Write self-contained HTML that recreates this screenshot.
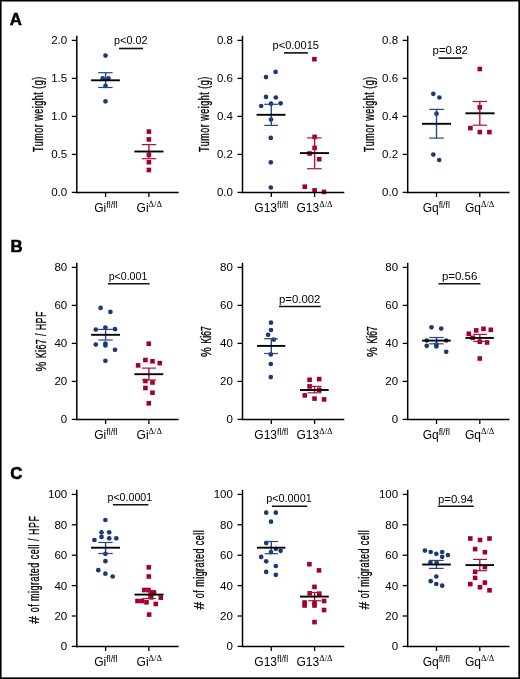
<!DOCTYPE html>
<html><head><meta charset="utf-8"><style>
html,body{margin:0;padding:0;background:#fff;}
body{width:520px;height:679px;overflow:hidden;}
svg{display:block;will-change:transform;}
</style></head><body>
<svg width="520" height="679" viewBox="0 0 520 679">
<rect x="0" y="0" width="520" height="679" fill="#fff"/>
<circle cx="105.50" cy="55.60" r="2.35" fill="#1b3877"/>
<circle cx="102.70" cy="78.40" r="2.35" fill="#1b3877"/>
<circle cx="108.40" cy="78.40" r="2.35" fill="#1b3877"/>
<circle cx="105.50" cy="85.90" r="2.35" fill="#1b3877"/>
<circle cx="105.50" cy="101.30" r="2.35" fill="#1b3877"/>
<rect x="146.60" y="129.30" width="4.6" height="4.6" fill="#a40026"/>
<rect x="146.60" y="137.10" width="4.6" height="4.6" fill="#a40026"/>
<rect x="146.60" y="152.50" width="4.6" height="4.6" fill="#a40026"/>
<rect x="146.60" y="159.90" width="4.6" height="4.6" fill="#a40026"/>
<rect x="146.60" y="167.70" width="4.6" height="4.6" fill="#a40026"/>
<line x1="105.60" y1="72.70" x2="105.60" y2="87.50" stroke="#24468a" stroke-width="1.4"/>
<line x1="98.20" y1="72.70" x2="112.60" y2="72.70" stroke="#24468a" stroke-width="1.2"/>
<line x1="98.20" y1="87.50" x2="112.60" y2="87.50" stroke="#24468a" stroke-width="1.2"/>
<line x1="91.10" y1="80.30" x2="119.90" y2="80.30" stroke="#000" stroke-width="1.9"/>
<line x1="148.90" y1="144.60" x2="148.90" y2="158.70" stroke="#b01040" stroke-width="1.4"/>
<line x1="141.80" y1="144.60" x2="156.20" y2="144.60" stroke="#b01040" stroke-width="1.2"/>
<line x1="141.80" y1="158.70" x2="156.20" y2="158.70" stroke="#b01040" stroke-width="1.2"/>
<line x1="134.40" y1="151.50" x2="163.50" y2="151.50" stroke="#000" stroke-width="1.9"/>
<line x1="76.80" y1="35.80" x2="76.80" y2="193.15" stroke="#000" stroke-width="1.5"/>
<line x1="76.05" y1="192.40" x2="178.60" y2="192.40" stroke="#000" stroke-width="1.5"/>
<line x1="71.80" y1="192.40" x2="76.80" y2="192.40" stroke="#000" stroke-width="1.3"/>
<text x="67.20" y="196.35" font-size="11.5" text-anchor="end" font-family='"Liberation Sans", sans-serif'>0.0</text>
<line x1="71.80" y1="154.40" x2="76.80" y2="154.40" stroke="#000" stroke-width="1.3"/>
<text x="67.20" y="158.35" font-size="11.5" text-anchor="end" font-family='"Liberation Sans", sans-serif'>0.5</text>
<line x1="71.80" y1="116.40" x2="76.80" y2="116.40" stroke="#000" stroke-width="1.3"/>
<text x="67.20" y="120.35" font-size="11.5" text-anchor="end" font-family='"Liberation Sans", sans-serif'>1.0</text>
<line x1="71.80" y1="78.40" x2="76.80" y2="78.40" stroke="#000" stroke-width="1.3"/>
<text x="67.20" y="82.35" font-size="11.5" text-anchor="end" font-family='"Liberation Sans", sans-serif'>1.5</text>
<line x1="71.80" y1="40.40" x2="76.80" y2="40.40" stroke="#000" stroke-width="1.3"/>
<text x="67.20" y="44.35" font-size="11.5" text-anchor="end" font-family='"Liberation Sans", sans-serif'>2.0</text>
<line x1="105.60" y1="192.40" x2="105.60" y2="197.00" stroke="#000" stroke-width="1.3"/>
<line x1="148.90" y1="192.40" x2="148.90" y2="197.00" stroke="#000" stroke-width="1.3"/>
<text x="94.25" y="211.80" font-size="12" font-family='"Liberation Sans", sans-serif'>Gi<tspan dy="-4.1" font-size="9" textLength="11.2" lengthAdjust="spacingAndGlyphs" style="font-variant-ligatures:none">fl/fl</tspan></text>
<text x="136.55" y="211.80" font-size="12" font-family='"Liberation Sans", sans-serif'>Gi<tspan dy="-5.2" font-size="8.6" font-family='"Liberation Serif", serif'>&#916;/&#916;</tspan></text>
<text transform="translate(43.30,114.40) rotate(-90) scale(0.65,1)" x="0" y="0" font-size="13.8" text-anchor="middle" textLength="115.54" lengthAdjust="spacing" stroke="#000" stroke-width="0.3" font-family='"Liberation Sans", sans-serif'>Tumor weight (g)</text>
<text x="114.10" y="44.40" font-size="11" textLength="33.4" lengthAdjust="spacingAndGlyphs" font-family='"Liberation Sans", sans-serif'>p&lt;0.02</text>
<line x1="119.00" y1="48.50" x2="143.00" y2="48.50" stroke="#111" stroke-width="1.6"/>
<circle cx="275.60" cy="71.90" r="2.35" fill="#1b3877"/>
<circle cx="266.00" cy="77.10" r="2.35" fill="#1b3877"/>
<circle cx="266.00" cy="96.90" r="2.35" fill="#1b3877"/>
<circle cx="275.80" cy="97.50" r="2.35" fill="#1b3877"/>
<circle cx="261.20" cy="106.00" r="2.35" fill="#1b3877"/>
<circle cx="271.00" cy="103.70" r="2.35" fill="#1b3877"/>
<circle cx="280.60" cy="103.30" r="2.35" fill="#1b3877"/>
<circle cx="271.00" cy="119.60" r="2.35" fill="#1b3877"/>
<circle cx="270.80" cy="137.90" r="2.35" fill="#1b3877"/>
<circle cx="270.80" cy="162.30" r="2.35" fill="#1b3877"/>
<circle cx="270.80" cy="187.50" r="2.35" fill="#1b3877"/>
<rect x="312.10" y="56.90" width="4.6" height="4.6" fill="#a40026"/>
<rect x="312.30" y="134.60" width="4.6" height="4.6" fill="#a40026"/>
<rect x="312.30" y="145.60" width="4.6" height="4.6" fill="#a40026"/>
<rect x="307.30" y="151.20" width="4.6" height="4.6" fill="#a40026"/>
<rect x="316.90" y="156.90" width="4.6" height="4.6" fill="#a40026"/>
<rect x="302.50" y="184.40" width="4.6" height="4.6" fill="#a40026"/>
<rect x="312.30" y="188.10" width="4.6" height="4.6" fill="#a40026"/>
<rect x="321.70" y="189.60" width="4.6" height="4.6" fill="#a40026"/>
<line x1="271.30" y1="104.30" x2="271.30" y2="125.40" stroke="#24468a" stroke-width="1.4"/>
<line x1="264.20" y1="104.30" x2="278.00" y2="104.30" stroke="#24468a" stroke-width="1.2"/>
<line x1="264.20" y1="125.40" x2="278.00" y2="125.40" stroke="#24468a" stroke-width="1.2"/>
<line x1="256.60" y1="114.80" x2="285.50" y2="114.80" stroke="#000" stroke-width="1.9"/>
<line x1="314.60" y1="137.90" x2="314.60" y2="168.70" stroke="#b01040" stroke-width="1.4"/>
<line x1="307.00" y1="137.90" x2="321.70" y2="137.90" stroke="#b01040" stroke-width="1.2"/>
<line x1="307.00" y1="168.70" x2="321.70" y2="168.70" stroke="#b01040" stroke-width="1.2"/>
<line x1="300.00" y1="153.10" x2="329.00" y2="153.10" stroke="#000" stroke-width="1.9"/>
<line x1="242.50" y1="35.80" x2="242.50" y2="193.15" stroke="#000" stroke-width="1.5"/>
<line x1="241.75" y1="192.40" x2="344.30" y2="192.40" stroke="#000" stroke-width="1.5"/>
<line x1="237.50" y1="192.40" x2="242.50" y2="192.40" stroke="#000" stroke-width="1.3"/>
<text x="232.90" y="196.35" font-size="11.5" text-anchor="end" font-family='"Liberation Sans", sans-serif'>0.0</text>
<line x1="237.50" y1="154.40" x2="242.50" y2="154.40" stroke="#000" stroke-width="1.3"/>
<text x="232.90" y="158.35" font-size="11.5" text-anchor="end" font-family='"Liberation Sans", sans-serif'>0.2</text>
<line x1="237.50" y1="116.40" x2="242.50" y2="116.40" stroke="#000" stroke-width="1.3"/>
<text x="232.90" y="120.35" font-size="11.5" text-anchor="end" font-family='"Liberation Sans", sans-serif'>0.4</text>
<line x1="237.50" y1="78.40" x2="242.50" y2="78.40" stroke="#000" stroke-width="1.3"/>
<text x="232.90" y="82.35" font-size="11.5" text-anchor="end" font-family='"Liberation Sans", sans-serif'>0.6</text>
<line x1="237.50" y1="40.40" x2="242.50" y2="40.40" stroke="#000" stroke-width="1.3"/>
<text x="232.90" y="44.35" font-size="11.5" text-anchor="end" font-family='"Liberation Sans", sans-serif'>0.8</text>
<line x1="271.30" y1="192.40" x2="271.30" y2="197.00" stroke="#000" stroke-width="1.3"/>
<line x1="314.60" y1="192.40" x2="314.60" y2="197.00" stroke="#000" stroke-width="1.3"/>
<text x="254.35" y="211.80" font-size="12" font-family='"Liberation Sans", sans-serif'>G13<tspan dy="-4.1" font-size="9" textLength="11.2" lengthAdjust="spacingAndGlyphs" style="font-variant-ligatures:none">fl/fl</tspan></text>
<text x="296.45" y="211.80" font-size="12" font-family='"Liberation Sans", sans-serif'>G13<tspan dy="-5.2" font-size="8.6" font-family='"Liberation Serif", serif'>&#916;/&#916;</tspan></text>
<text transform="translate(209.00,114.40) rotate(-90) scale(0.65,1)" x="0" y="0" font-size="13.8" text-anchor="middle" textLength="115.54" lengthAdjust="spacing" stroke="#000" stroke-width="0.3" font-family='"Liberation Sans", sans-serif'>Tumor weight (g)</text>
<text x="272.50" y="48.50" font-size="11" textLength="46.5" lengthAdjust="spacingAndGlyphs" font-family='"Liberation Sans", sans-serif'>p&lt;0.0015</text>
<line x1="284.00" y1="52.90" x2="307.90" y2="52.90" stroke="#111" stroke-width="1.6"/>
<circle cx="433.30" cy="93.80" r="2.35" fill="#1b3877"/>
<circle cx="439.40" cy="97.50" r="2.35" fill="#1b3877"/>
<circle cx="436.50" cy="113.70" r="2.35" fill="#1b3877"/>
<circle cx="433.30" cy="154.60" r="2.35" fill="#1b3877"/>
<circle cx="439.20" cy="160.00" r="2.35" fill="#1b3877"/>
<rect x="477.50" y="66.70" width="4.6" height="4.6" fill="#a40026"/>
<rect x="477.50" y="105.00" width="4.6" height="4.6" fill="#a40026"/>
<rect x="468.10" y="125.80" width="4.6" height="4.6" fill="#a40026"/>
<rect x="477.50" y="129.80" width="4.6" height="4.6" fill="#a40026"/>
<rect x="487.10" y="129.80" width="4.6" height="4.6" fill="#a40026"/>
<line x1="436.50" y1="109.40" x2="436.50" y2="138.10" stroke="#24468a" stroke-width="1.4"/>
<line x1="429.20" y1="109.40" x2="443.80" y2="109.40" stroke="#24468a" stroke-width="1.2"/>
<line x1="429.20" y1="138.10" x2="443.80" y2="138.10" stroke="#24468a" stroke-width="1.2"/>
<line x1="422.00" y1="123.80" x2="451.00" y2="123.80" stroke="#000" stroke-width="1.9"/>
<line x1="479.80" y1="101.50" x2="479.80" y2="125.20" stroke="#b01040" stroke-width="1.4"/>
<line x1="472.70" y1="101.50" x2="487.00" y2="101.50" stroke="#b01040" stroke-width="1.2"/>
<line x1="472.70" y1="125.20" x2="487.00" y2="125.20" stroke="#b01040" stroke-width="1.2"/>
<line x1="465.40" y1="113.30" x2="494.60" y2="113.30" stroke="#000" stroke-width="1.9"/>
<line x1="407.70" y1="35.80" x2="407.70" y2="193.15" stroke="#000" stroke-width="1.5"/>
<line x1="406.95" y1="192.40" x2="509.50" y2="192.40" stroke="#000" stroke-width="1.5"/>
<line x1="402.70" y1="192.40" x2="407.70" y2="192.40" stroke="#000" stroke-width="1.3"/>
<text x="398.10" y="196.35" font-size="11.5" text-anchor="end" font-family='"Liberation Sans", sans-serif'>0.0</text>
<line x1="402.70" y1="154.40" x2="407.70" y2="154.40" stroke="#000" stroke-width="1.3"/>
<text x="398.10" y="158.35" font-size="11.5" text-anchor="end" font-family='"Liberation Sans", sans-serif'>0.2</text>
<line x1="402.70" y1="116.40" x2="407.70" y2="116.40" stroke="#000" stroke-width="1.3"/>
<text x="398.10" y="120.35" font-size="11.5" text-anchor="end" font-family='"Liberation Sans", sans-serif'>0.4</text>
<line x1="402.70" y1="78.40" x2="407.70" y2="78.40" stroke="#000" stroke-width="1.3"/>
<text x="398.10" y="82.35" font-size="11.5" text-anchor="end" font-family='"Liberation Sans", sans-serif'>0.6</text>
<line x1="402.70" y1="40.40" x2="407.70" y2="40.40" stroke="#000" stroke-width="1.3"/>
<text x="398.10" y="44.35" font-size="11.5" text-anchor="end" font-family='"Liberation Sans", sans-serif'>0.8</text>
<line x1="436.50" y1="192.40" x2="436.50" y2="197.00" stroke="#000" stroke-width="1.3"/>
<line x1="479.80" y1="192.40" x2="479.80" y2="197.00" stroke="#000" stroke-width="1.3"/>
<text x="422.65" y="211.80" font-size="12" font-family='"Liberation Sans", sans-serif'>Gq<tspan dy="-4.1" font-size="9" textLength="11.2" lengthAdjust="spacingAndGlyphs" style="font-variant-ligatures:none">fl/fl</tspan></text>
<text x="464.95" y="211.80" font-size="12" font-family='"Liberation Sans", sans-serif'>Gq<tspan dy="-5.2" font-size="8.6" font-family='"Liberation Serif", serif'>&#916;/&#916;</tspan></text>
<text transform="translate(374.10,114.40) rotate(-90) scale(0.65,1)" x="0" y="0" font-size="13.8" text-anchor="middle" textLength="115.54" lengthAdjust="spacing" stroke="#000" stroke-width="0.3" font-family='"Liberation Sans", sans-serif'>Tumor weight (g)</text>
<text x="432.50" y="54.20" font-size="11" textLength="35.4" lengthAdjust="spacingAndGlyphs" font-family='"Liberation Sans", sans-serif'>p=0.82</text>
<line x1="438.60" y1="58.10" x2="462.10" y2="58.10" stroke="#111" stroke-width="1.6"/>
<circle cx="100.60" cy="307.90" r="2.35" fill="#1b3877"/>
<circle cx="110.40" cy="311.90" r="2.35" fill="#1b3877"/>
<circle cx="95.80" cy="329.60" r="2.35" fill="#1b3877"/>
<circle cx="105.40" cy="327.50" r="2.35" fill="#1b3877"/>
<circle cx="115.00" cy="329.20" r="2.35" fill="#1b3877"/>
<circle cx="95.80" cy="344.60" r="2.35" fill="#1b3877"/>
<circle cx="105.40" cy="343.50" r="2.35" fill="#1b3877"/>
<circle cx="105.40" cy="345.50" r="2.35" fill="#1b3877"/>
<circle cx="115.00" cy="349.80" r="2.35" fill="#1b3877"/>
<circle cx="105.40" cy="360.80" r="2.35" fill="#1b3877"/>
<rect x="146.50" y="341.40" width="4.6" height="4.6" fill="#a40026"/>
<rect x="143.10" y="357.70" width="4.6" height="4.6" fill="#a40026"/>
<rect x="150.20" y="359.00" width="4.6" height="4.6" fill="#a40026"/>
<rect x="157.50" y="360.80" width="4.6" height="4.6" fill="#a40026"/>
<rect x="135.80" y="363.10" width="4.6" height="4.6" fill="#a40026"/>
<rect x="143.10" y="378.70" width="4.6" height="4.6" fill="#a40026"/>
<rect x="150.20" y="380.20" width="4.6" height="4.6" fill="#a40026"/>
<rect x="143.10" y="385.70" width="4.6" height="4.6" fill="#a40026"/>
<rect x="150.20" y="390.40" width="4.6" height="4.6" fill="#a40026"/>
<rect x="146.50" y="401.00" width="4.6" height="4.6" fill="#a40026"/>
<line x1="105.60" y1="329.40" x2="105.60" y2="340.00" stroke="#24468a" stroke-width="1.4"/>
<line x1="98.30" y1="329.40" x2="112.70" y2="329.40" stroke="#24468a" stroke-width="1.2"/>
<line x1="98.30" y1="340.00" x2="112.70" y2="340.00" stroke="#24468a" stroke-width="1.2"/>
<line x1="91.10" y1="334.80" x2="120.00" y2="334.80" stroke="#000" stroke-width="1.9"/>
<line x1="148.90" y1="368.10" x2="148.90" y2="380.00" stroke="#b01040" stroke-width="1.4"/>
<line x1="141.90" y1="368.10" x2="156.00" y2="368.10" stroke="#b01040" stroke-width="1.2"/>
<line x1="141.90" y1="380.00" x2="156.00" y2="380.00" stroke="#b01040" stroke-width="1.2"/>
<line x1="134.40" y1="374.20" x2="163.30" y2="374.20" stroke="#000" stroke-width="1.9"/>
<line x1="76.80" y1="262.80" x2="76.80" y2="420.15" stroke="#000" stroke-width="1.5"/>
<line x1="76.05" y1="419.40" x2="178.60" y2="419.40" stroke="#000" stroke-width="1.5"/>
<line x1="71.80" y1="419.40" x2="76.80" y2="419.40" stroke="#000" stroke-width="1.3"/>
<text x="67.20" y="423.35" font-size="11.5" text-anchor="end" font-family='"Liberation Sans", sans-serif'>0</text>
<line x1="71.80" y1="381.40" x2="76.80" y2="381.40" stroke="#000" stroke-width="1.3"/>
<text x="67.20" y="385.35" font-size="11.5" text-anchor="end" font-family='"Liberation Sans", sans-serif'>20</text>
<line x1="71.80" y1="343.40" x2="76.80" y2="343.40" stroke="#000" stroke-width="1.3"/>
<text x="67.20" y="347.35" font-size="11.5" text-anchor="end" font-family='"Liberation Sans", sans-serif'>40</text>
<line x1="71.80" y1="305.40" x2="76.80" y2="305.40" stroke="#000" stroke-width="1.3"/>
<text x="67.20" y="309.35" font-size="11.5" text-anchor="end" font-family='"Liberation Sans", sans-serif'>60</text>
<line x1="71.80" y1="267.40" x2="76.80" y2="267.40" stroke="#000" stroke-width="1.3"/>
<text x="67.20" y="271.35" font-size="11.5" text-anchor="end" font-family='"Liberation Sans", sans-serif'>80</text>
<line x1="105.60" y1="419.40" x2="105.60" y2="424.00" stroke="#000" stroke-width="1.3"/>
<line x1="148.90" y1="419.40" x2="148.90" y2="424.00" stroke="#000" stroke-width="1.3"/>
<text x="94.25" y="438.80" font-size="12" font-family='"Liberation Sans", sans-serif'>Gi<tspan dy="-4.1" font-size="9" textLength="11.2" lengthAdjust="spacingAndGlyphs" style="font-variant-ligatures:none">fl/fl</tspan></text>
<text x="136.55" y="438.80" font-size="12" font-family='"Liberation Sans", sans-serif'>Gi<tspan dy="-5.2" font-size="8.6" font-family='"Liberation Serif", serif'>&#916;/&#916;</tspan></text>
<text transform="translate(45.50,366.70) rotate(-90) scale(0.8,1)" x="0" y="0" font-size="13.8" text-anchor="middle" stroke="#000" stroke-width="0.3" font-family='"Liberation Sans", sans-serif'>%</text>
<text transform="translate(45.50,334.95) rotate(-90) scale(0.65,1)" x="0" y="0" font-size="13.8" text-anchor="middle" textLength="71.85" lengthAdjust="spacing" stroke="#000" stroke-width="0.3" font-family='"Liberation Sans", sans-serif'>Ki67 / HPF</text>
<text x="108.70" y="280.00" font-size="11" textLength="38.6" lengthAdjust="spacingAndGlyphs" font-family='"Liberation Sans", sans-serif'>p&lt;0.001</text>
<line x1="107.80" y1="283.70" x2="149.60" y2="283.70" stroke="#111" stroke-width="1.6"/>
<circle cx="271.00" cy="322.70" r="2.35" fill="#1b3877"/>
<circle cx="271.00" cy="330.00" r="2.35" fill="#1b3877"/>
<circle cx="268.10" cy="334.80" r="2.35" fill="#1b3877"/>
<circle cx="273.80" cy="339.60" r="2.35" fill="#1b3877"/>
<circle cx="270.80" cy="354.40" r="2.35" fill="#1b3877"/>
<circle cx="270.80" cy="364.00" r="2.35" fill="#1b3877"/>
<circle cx="270.80" cy="377.10" r="2.35" fill="#1b3877"/>
<rect x="307.30" y="377.50" width="4.6" height="4.6" fill="#a40026"/>
<rect x="316.90" y="376.80" width="4.6" height="4.6" fill="#a40026"/>
<rect x="307.30" y="384.10" width="4.6" height="4.6" fill="#a40026"/>
<rect x="316.90" y="387.50" width="4.6" height="4.6" fill="#a40026"/>
<rect x="302.50" y="393.10" width="4.6" height="4.6" fill="#a40026"/>
<rect x="312.20" y="396.30" width="4.6" height="4.6" fill="#a40026"/>
<rect x="321.80" y="397.10" width="4.6" height="4.6" fill="#a40026"/>
<line x1="271.30" y1="338.70" x2="271.30" y2="353.50" stroke="#24468a" stroke-width="1.4"/>
<line x1="264.10" y1="338.70" x2="278.00" y2="338.70" stroke="#24468a" stroke-width="1.2"/>
<line x1="264.10" y1="353.50" x2="278.00" y2="353.50" stroke="#24468a" stroke-width="1.2"/>
<line x1="257.00" y1="345.90" x2="285.30" y2="345.90" stroke="#000" stroke-width="1.9"/>
<line x1="314.60" y1="386.40" x2="314.60" y2="392.80" stroke="#b01040" stroke-width="1.4"/>
<line x1="307.70" y1="386.40" x2="321.50" y2="386.40" stroke="#b01040" stroke-width="1.2"/>
<line x1="307.70" y1="392.80" x2="321.50" y2="392.80" stroke="#b01040" stroke-width="1.2"/>
<line x1="300.00" y1="390.00" x2="328.70" y2="390.00" stroke="#000" stroke-width="1.9"/>
<line x1="242.50" y1="262.80" x2="242.50" y2="420.15" stroke="#000" stroke-width="1.5"/>
<line x1="241.75" y1="419.40" x2="344.30" y2="419.40" stroke="#000" stroke-width="1.5"/>
<line x1="237.50" y1="419.40" x2="242.50" y2="419.40" stroke="#000" stroke-width="1.3"/>
<text x="232.90" y="423.35" font-size="11.5" text-anchor="end" font-family='"Liberation Sans", sans-serif'>0</text>
<line x1="237.50" y1="381.40" x2="242.50" y2="381.40" stroke="#000" stroke-width="1.3"/>
<text x="232.90" y="385.35" font-size="11.5" text-anchor="end" font-family='"Liberation Sans", sans-serif'>20</text>
<line x1="237.50" y1="343.40" x2="242.50" y2="343.40" stroke="#000" stroke-width="1.3"/>
<text x="232.90" y="347.35" font-size="11.5" text-anchor="end" font-family='"Liberation Sans", sans-serif'>40</text>
<line x1="237.50" y1="305.40" x2="242.50" y2="305.40" stroke="#000" stroke-width="1.3"/>
<text x="232.90" y="309.35" font-size="11.5" text-anchor="end" font-family='"Liberation Sans", sans-serif'>60</text>
<line x1="237.50" y1="267.40" x2="242.50" y2="267.40" stroke="#000" stroke-width="1.3"/>
<text x="232.90" y="271.35" font-size="11.5" text-anchor="end" font-family='"Liberation Sans", sans-serif'>80</text>
<line x1="271.30" y1="419.40" x2="271.30" y2="424.00" stroke="#000" stroke-width="1.3"/>
<line x1="314.60" y1="419.40" x2="314.60" y2="424.00" stroke="#000" stroke-width="1.3"/>
<text x="254.35" y="438.80" font-size="12" font-family='"Liberation Sans", sans-serif'>G13<tspan dy="-4.1" font-size="9" textLength="11.2" lengthAdjust="spacingAndGlyphs" style="font-variant-ligatures:none">fl/fl</tspan></text>
<text x="296.45" y="438.80" font-size="12" font-family='"Liberation Sans", sans-serif'>G13<tspan dy="-5.2" font-size="8.6" font-family='"Liberation Serif", serif'>&#916;/&#916;</tspan></text>
<text transform="translate(211.20,352.10) rotate(-90) scale(0.8,1)" x="0" y="0" font-size="13.8" text-anchor="middle" stroke="#000" stroke-width="0.3" font-family='"Liberation Sans", sans-serif'>%</text>
<text transform="translate(211.20,334.95) rotate(-90) scale(0.65,1)" x="0" y="0" font-size="13.8" text-anchor="middle" textLength="26.92" lengthAdjust="spacing" stroke="#000" stroke-width="0.3" font-family='"Liberation Sans", sans-serif'>Ki67</text>
<text x="279.00" y="302.70" font-size="11" textLength="41.4" lengthAdjust="spacingAndGlyphs" font-family='"Liberation Sans", sans-serif'>p=0.002</text>
<line x1="279.00" y1="306.50" x2="320.80" y2="306.50" stroke="#111" stroke-width="1.6"/>
<circle cx="431.50" cy="327.30" r="2.35" fill="#1b3877"/>
<circle cx="441.20" cy="328.60" r="2.35" fill="#1b3877"/>
<circle cx="426.70" cy="340.50" r="2.35" fill="#1b3877"/>
<circle cx="446.20" cy="340.50" r="2.35" fill="#1b3877"/>
<circle cx="426.70" cy="345.80" r="2.35" fill="#1b3877"/>
<circle cx="436.40" cy="344.50" r="2.35" fill="#1b3877"/>
<circle cx="436.40" cy="346.50" r="2.35" fill="#1b3877"/>
<circle cx="446.20" cy="351.80" r="2.35" fill="#1b3877"/>
<rect x="473.90" y="328.10" width="4.6" height="4.6" fill="#a40026"/>
<rect x="481.20" y="326.50" width="4.6" height="4.6" fill="#a40026"/>
<rect x="488.50" y="327.50" width="4.6" height="4.6" fill="#a40026"/>
<rect x="466.50" y="331.50" width="4.6" height="4.6" fill="#a40026"/>
<rect x="470.40" y="335.50" width="4.6" height="4.6" fill="#a40026"/>
<rect x="477.50" y="339.40" width="4.6" height="4.6" fill="#a40026"/>
<rect x="484.80" y="340.20" width="4.6" height="4.6" fill="#a40026"/>
<rect x="477.50" y="356.20" width="4.6" height="4.6" fill="#a40026"/>
<line x1="436.50" y1="337.50" x2="436.50" y2="343.80" stroke="#24468a" stroke-width="1.4"/>
<line x1="429.20" y1="337.50" x2="443.60" y2="337.50" stroke="#24468a" stroke-width="1.2"/>
<line x1="429.20" y1="343.80" x2="443.60" y2="343.80" stroke="#24468a" stroke-width="1.2"/>
<line x1="422.10" y1="340.60" x2="450.80" y2="340.60" stroke="#000" stroke-width="1.9"/>
<line x1="479.80" y1="334.40" x2="479.80" y2="341.40" stroke="#b01040" stroke-width="1.4"/>
<line x1="473.20" y1="334.40" x2="486.90" y2="334.40" stroke="#b01040" stroke-width="1.2"/>
<line x1="473.20" y1="341.40" x2="486.90" y2="341.40" stroke="#b01040" stroke-width="1.2"/>
<line x1="465.40" y1="337.90" x2="493.80" y2="337.90" stroke="#000" stroke-width="1.9"/>
<line x1="407.70" y1="262.80" x2="407.70" y2="420.15" stroke="#000" stroke-width="1.5"/>
<line x1="406.95" y1="419.40" x2="509.50" y2="419.40" stroke="#000" stroke-width="1.5"/>
<line x1="402.70" y1="419.40" x2="407.70" y2="419.40" stroke="#000" stroke-width="1.3"/>
<text x="398.10" y="423.35" font-size="11.5" text-anchor="end" font-family='"Liberation Sans", sans-serif'>0</text>
<line x1="402.70" y1="381.40" x2="407.70" y2="381.40" stroke="#000" stroke-width="1.3"/>
<text x="398.10" y="385.35" font-size="11.5" text-anchor="end" font-family='"Liberation Sans", sans-serif'>20</text>
<line x1="402.70" y1="343.40" x2="407.70" y2="343.40" stroke="#000" stroke-width="1.3"/>
<text x="398.10" y="347.35" font-size="11.5" text-anchor="end" font-family='"Liberation Sans", sans-serif'>40</text>
<line x1="402.70" y1="305.40" x2="407.70" y2="305.40" stroke="#000" stroke-width="1.3"/>
<text x="398.10" y="309.35" font-size="11.5" text-anchor="end" font-family='"Liberation Sans", sans-serif'>60</text>
<line x1="402.70" y1="267.40" x2="407.70" y2="267.40" stroke="#000" stroke-width="1.3"/>
<text x="398.10" y="271.35" font-size="11.5" text-anchor="end" font-family='"Liberation Sans", sans-serif'>80</text>
<line x1="436.50" y1="419.40" x2="436.50" y2="424.00" stroke="#000" stroke-width="1.3"/>
<line x1="479.80" y1="419.40" x2="479.80" y2="424.00" stroke="#000" stroke-width="1.3"/>
<text x="422.65" y="438.80" font-size="12" font-family='"Liberation Sans", sans-serif'>Gq<tspan dy="-4.1" font-size="9" textLength="11.2" lengthAdjust="spacingAndGlyphs" style="font-variant-ligatures:none">fl/fl</tspan></text>
<text x="464.95" y="438.80" font-size="12" font-family='"Liberation Sans", sans-serif'>Gq<tspan dy="-5.2" font-size="8.6" font-family='"Liberation Serif", serif'>&#916;/&#916;</tspan></text>
<text transform="translate(376.50,352.10) rotate(-90) scale(0.8,1)" x="0" y="0" font-size="13.8" text-anchor="middle" stroke="#000" stroke-width="0.3" font-family='"Liberation Sans", sans-serif'>%</text>
<text transform="translate(376.50,334.95) rotate(-90) scale(0.65,1)" x="0" y="0" font-size="13.8" text-anchor="middle" textLength="26.92" lengthAdjust="spacing" stroke="#000" stroke-width="0.3" font-family='"Liberation Sans", sans-serif'>Ki67</text>
<text x="441.90" y="280.10" font-size="11" textLength="35.4" lengthAdjust="spacingAndGlyphs" font-family='"Liberation Sans", sans-serif'>p=0.56</text>
<line x1="438.50" y1="283.80" x2="480.40" y2="283.80" stroke="#111" stroke-width="1.6"/>
<circle cx="105.40" cy="520.00" r="2.35" fill="#1b3877"/>
<circle cx="101.50" cy="532.30" r="2.35" fill="#1b3877"/>
<circle cx="109.20" cy="532.30" r="2.35" fill="#1b3877"/>
<circle cx="101.50" cy="536.90" r="2.35" fill="#1b3877"/>
<circle cx="94.40" cy="540.00" r="2.35" fill="#1b3877"/>
<circle cx="109.20" cy="538.30" r="2.35" fill="#1b3877"/>
<circle cx="116.30" cy="538.30" r="2.35" fill="#1b3877"/>
<circle cx="105.40" cy="553.80" r="2.35" fill="#1b3877"/>
<circle cx="105.40" cy="561.20" r="2.35" fill="#1b3877"/>
<circle cx="98.30" cy="570.20" r="2.35" fill="#1b3877"/>
<circle cx="105.40" cy="573.70" r="2.35" fill="#1b3877"/>
<circle cx="112.70" cy="576.50" r="2.35" fill="#1b3877"/>
<rect x="146.50" y="565.00" width="4.6" height="4.6" fill="#a40026"/>
<rect x="146.50" y="574.20" width="4.6" height="4.6" fill="#a40026"/>
<rect x="141.90" y="587.70" width="4.6" height="4.6" fill="#a40026"/>
<rect x="146.20" y="587.70" width="4.6" height="4.6" fill="#a40026"/>
<rect x="149.20" y="590.40" width="4.6" height="4.6" fill="#a40026"/>
<rect x="151.70" y="590.70" width="4.6" height="4.6" fill="#a40026"/>
<rect x="158.50" y="595.40" width="4.6" height="4.6" fill="#a40026"/>
<rect x="148.90" y="595.00" width="4.6" height="4.6" fill="#a40026"/>
<rect x="135.20" y="598.70" width="4.6" height="4.6" fill="#a40026"/>
<rect x="139.70" y="598.70" width="4.6" height="4.6" fill="#a40026"/>
<rect x="144.20" y="600.00" width="4.6" height="4.6" fill="#a40026"/>
<rect x="153.50" y="601.70" width="4.6" height="4.6" fill="#a40026"/>
<rect x="146.80" y="612.30" width="4.6" height="4.6" fill="#a40026"/>
<line x1="105.60" y1="542.50" x2="105.60" y2="553.50" stroke="#24468a" stroke-width="1.4"/>
<line x1="98.30" y1="542.50" x2="112.70" y2="542.50" stroke="#24468a" stroke-width="1.2"/>
<line x1="98.30" y1="553.50" x2="112.70" y2="553.50" stroke="#24468a" stroke-width="1.2"/>
<line x1="91.10" y1="547.70" x2="120.00" y2="547.70" stroke="#000" stroke-width="1.9"/>
<line x1="148.90" y1="590.50" x2="148.90" y2="598.50" stroke="#b01040" stroke-width="1.4"/>
<line x1="142.30" y1="590.50" x2="155.80" y2="590.50" stroke="#b01040" stroke-width="1.2"/>
<line x1="142.30" y1="598.50" x2="155.80" y2="598.50" stroke="#b01040" stroke-width="1.2"/>
<line x1="134.50" y1="594.60" x2="163.50" y2="594.60" stroke="#000" stroke-width="1.9"/>
<line x1="76.80" y1="489.80" x2="76.80" y2="647.15" stroke="#000" stroke-width="1.5"/>
<line x1="76.05" y1="646.40" x2="178.60" y2="646.40" stroke="#000" stroke-width="1.5"/>
<line x1="71.80" y1="646.40" x2="76.80" y2="646.40" stroke="#000" stroke-width="1.3"/>
<text x="67.20" y="650.35" font-size="11.5" text-anchor="end" font-family='"Liberation Sans", sans-serif'>0</text>
<line x1="71.80" y1="616.00" x2="76.80" y2="616.00" stroke="#000" stroke-width="1.3"/>
<text x="67.20" y="619.95" font-size="11.5" text-anchor="end" font-family='"Liberation Sans", sans-serif'>20</text>
<line x1="71.80" y1="585.60" x2="76.80" y2="585.60" stroke="#000" stroke-width="1.3"/>
<text x="67.20" y="589.55" font-size="11.5" text-anchor="end" font-family='"Liberation Sans", sans-serif'>40</text>
<line x1="71.80" y1="555.20" x2="76.80" y2="555.20" stroke="#000" stroke-width="1.3"/>
<text x="67.20" y="559.15" font-size="11.5" text-anchor="end" font-family='"Liberation Sans", sans-serif'>60</text>
<line x1="71.80" y1="524.80" x2="76.80" y2="524.80" stroke="#000" stroke-width="1.3"/>
<text x="67.20" y="528.75" font-size="11.5" text-anchor="end" font-family='"Liberation Sans", sans-serif'>80</text>
<line x1="71.80" y1="494.40" x2="76.80" y2="494.40" stroke="#000" stroke-width="1.3"/>
<text x="67.20" y="498.35" font-size="11.5" text-anchor="end" font-family='"Liberation Sans", sans-serif'>100</text>
<line x1="105.60" y1="646.40" x2="105.60" y2="651.00" stroke="#000" stroke-width="1.3"/>
<line x1="148.90" y1="646.40" x2="148.90" y2="651.00" stroke="#000" stroke-width="1.3"/>
<text x="94.25" y="665.80" font-size="12" font-family='"Liberation Sans", sans-serif'>Gi<tspan dy="-4.1" font-size="9" textLength="11.2" lengthAdjust="spacingAndGlyphs" style="font-variant-ligatures:none">fl/fl</tspan></text>
<text x="136.55" y="665.80" font-size="12" font-family='"Liberation Sans", sans-serif'>Gi<tspan dy="-5.2" font-size="8.6" font-family='"Liberation Serif", serif'>&#916;/&#916;</tspan></text>
<text transform="translate(38.60,619.90) rotate(-90) scale(1.0,1)" x="0" y="0" font-size="13.8" text-anchor="middle" stroke="#000" stroke-width="0.3" font-family='"Liberation Sans", sans-serif'>#</text>
<text transform="translate(38.60,564.20) rotate(-90) scale(0.65,1)" x="0" y="0" font-size="13.8" text-anchor="middle" textLength="148.00" lengthAdjust="spacing" stroke="#000" stroke-width="0.3" font-family='"Liberation Sans", sans-serif'>of migrated cell / HPF</text>
<text x="107.50" y="501.10" font-size="11" textLength="44.6" lengthAdjust="spacingAndGlyphs" font-family='"Liberation Sans", sans-serif'>p&lt;0.0001</text>
<line x1="112.90" y1="504.70" x2="148.40" y2="504.70" stroke="#111" stroke-width="1.6"/>
<circle cx="266.20" cy="512.70" r="2.35" fill="#1b3877"/>
<circle cx="275.80" cy="512.70" r="2.35" fill="#1b3877"/>
<circle cx="271.00" cy="521.70" r="2.35" fill="#1b3877"/>
<circle cx="266.20" cy="543.10" r="2.35" fill="#1b3877"/>
<circle cx="275.80" cy="548.80" r="2.35" fill="#1b3877"/>
<circle cx="280.60" cy="550.80" r="2.35" fill="#1b3877"/>
<circle cx="271.00" cy="552.10" r="2.35" fill="#1b3877"/>
<circle cx="261.20" cy="556.90" r="2.35" fill="#1b3877"/>
<circle cx="266.20" cy="561.30" r="2.35" fill="#1b3877"/>
<circle cx="275.80" cy="566.00" r="2.35" fill="#1b3877"/>
<circle cx="266.20" cy="571.90" r="2.35" fill="#1b3877"/>
<circle cx="275.80" cy="574.80" r="2.35" fill="#1b3877"/>
<rect x="307.10" y="561.90" width="4.6" height="4.6" fill="#a40026"/>
<rect x="316.70" y="568.10" width="4.6" height="4.6" fill="#a40026"/>
<rect x="312.20" y="584.60" width="4.6" height="4.6" fill="#a40026"/>
<rect x="307.40" y="591.00" width="4.6" height="4.6" fill="#a40026"/>
<rect x="317.00" y="591.40" width="4.6" height="4.6" fill="#a40026"/>
<rect x="302.30" y="600.20" width="4.6" height="4.6" fill="#a40026"/>
<rect x="302.30" y="603.20" width="4.6" height="4.6" fill="#a40026"/>
<rect x="312.20" y="600.20" width="4.6" height="4.6" fill="#a40026"/>
<rect x="312.20" y="603.20" width="4.6" height="4.6" fill="#a40026"/>
<rect x="321.80" y="598.70" width="4.6" height="4.6" fill="#a40026"/>
<rect x="321.80" y="607.70" width="4.6" height="4.6" fill="#a40026"/>
<rect x="312.20" y="619.80" width="4.6" height="4.6" fill="#a40026"/>
<line x1="271.30" y1="541.50" x2="271.30" y2="553.70" stroke="#24468a" stroke-width="1.4"/>
<line x1="264.60" y1="541.50" x2="278.00" y2="541.50" stroke="#24468a" stroke-width="1.2"/>
<line x1="264.60" y1="553.70" x2="278.00" y2="553.70" stroke="#24468a" stroke-width="1.2"/>
<line x1="257.00" y1="547.70" x2="285.40" y2="547.70" stroke="#000" stroke-width="1.9"/>
<line x1="314.60" y1="592.50" x2="314.60" y2="600.70" stroke="#b01040" stroke-width="1.4"/>
<line x1="308.30" y1="592.50" x2="321.30" y2="592.50" stroke="#b01040" stroke-width="1.2"/>
<line x1="308.30" y1="600.70" x2="321.30" y2="600.70" stroke="#b01040" stroke-width="1.2"/>
<line x1="300.10" y1="596.60" x2="328.80" y2="596.60" stroke="#000" stroke-width="1.9"/>
<line x1="242.50" y1="489.80" x2="242.50" y2="647.15" stroke="#000" stroke-width="1.5"/>
<line x1="241.75" y1="646.40" x2="344.30" y2="646.40" stroke="#000" stroke-width="1.5"/>
<line x1="237.50" y1="646.40" x2="242.50" y2="646.40" stroke="#000" stroke-width="1.3"/>
<text x="232.90" y="650.35" font-size="11.5" text-anchor="end" font-family='"Liberation Sans", sans-serif'>0</text>
<line x1="237.50" y1="616.00" x2="242.50" y2="616.00" stroke="#000" stroke-width="1.3"/>
<text x="232.90" y="619.95" font-size="11.5" text-anchor="end" font-family='"Liberation Sans", sans-serif'>20</text>
<line x1="237.50" y1="585.60" x2="242.50" y2="585.60" stroke="#000" stroke-width="1.3"/>
<text x="232.90" y="589.55" font-size="11.5" text-anchor="end" font-family='"Liberation Sans", sans-serif'>40</text>
<line x1="237.50" y1="555.20" x2="242.50" y2="555.20" stroke="#000" stroke-width="1.3"/>
<text x="232.90" y="559.15" font-size="11.5" text-anchor="end" font-family='"Liberation Sans", sans-serif'>60</text>
<line x1="237.50" y1="524.80" x2="242.50" y2="524.80" stroke="#000" stroke-width="1.3"/>
<text x="232.90" y="528.75" font-size="11.5" text-anchor="end" font-family='"Liberation Sans", sans-serif'>80</text>
<line x1="237.50" y1="494.40" x2="242.50" y2="494.40" stroke="#000" stroke-width="1.3"/>
<text x="232.90" y="498.35" font-size="11.5" text-anchor="end" font-family='"Liberation Sans", sans-serif'>100</text>
<line x1="271.30" y1="646.40" x2="271.30" y2="651.00" stroke="#000" stroke-width="1.3"/>
<line x1="314.60" y1="646.40" x2="314.60" y2="651.00" stroke="#000" stroke-width="1.3"/>
<text x="254.35" y="665.80" font-size="12" font-family='"Liberation Sans", sans-serif'>G13<tspan dy="-4.1" font-size="9" textLength="11.2" lengthAdjust="spacingAndGlyphs" style="font-variant-ligatures:none">fl/fl</tspan></text>
<text x="296.45" y="665.80" font-size="12" font-family='"Liberation Sans", sans-serif'>G13<tspan dy="-5.2" font-size="8.6" font-family='"Liberation Serif", serif'>&#916;/&#916;</tspan></text>
<text transform="translate(204.10,605.75) rotate(-90) scale(1.0,1)" x="0" y="0" font-size="13.8" text-anchor="middle" stroke="#000" stroke-width="0.3" font-family='"Liberation Sans", sans-serif'>#</text>
<text transform="translate(204.10,564.20) rotate(-90) scale(0.65,1)" x="0" y="0" font-size="13.8" text-anchor="middle" textLength="104.46" lengthAdjust="spacing" stroke="#000" stroke-width="0.3" font-family='"Liberation Sans", sans-serif'>of migrated cell</text>
<text x="266.20" y="502.10" font-size="11" textLength="45.5" lengthAdjust="spacingAndGlyphs" font-family='"Liberation Sans", sans-serif'>p&lt;0.0001</text>
<line x1="271.90" y1="506.30" x2="307.30" y2="506.30" stroke="#111" stroke-width="1.6"/>
<circle cx="424.90" cy="550.60" r="2.35" fill="#1b3877"/>
<circle cx="430.70" cy="552.00" r="2.35" fill="#1b3877"/>
<circle cx="436.30" cy="553.80" r="2.35" fill="#1b3877"/>
<circle cx="442.20" cy="552.00" r="2.35" fill="#1b3877"/>
<circle cx="442.20" cy="556.80" r="2.35" fill="#1b3877"/>
<circle cx="447.90" cy="555.10" r="2.35" fill="#1b3877"/>
<circle cx="430.40" cy="562.60" r="2.35" fill="#1b3877"/>
<circle cx="436.60" cy="562.60" r="2.35" fill="#1b3877"/>
<circle cx="436.30" cy="576.50" r="2.35" fill="#1b3877"/>
<circle cx="430.70" cy="581.20" r="2.35" fill="#1b3877"/>
<circle cx="436.30" cy="584.00" r="2.35" fill="#1b3877"/>
<circle cx="442.20" cy="585.70" r="2.35" fill="#1b3877"/>
<rect x="468.00" y="536.20" width="4.6" height="4.6" fill="#a40026"/>
<rect x="477.70" y="537.70" width="4.6" height="4.6" fill="#a40026"/>
<rect x="487.20" y="536.20" width="4.6" height="4.6" fill="#a40026"/>
<rect x="472.80" y="546.80" width="4.6" height="4.6" fill="#a40026"/>
<rect x="482.60" y="549.90" width="4.6" height="4.6" fill="#a40026"/>
<rect x="482.60" y="564.80" width="4.6" height="4.6" fill="#a40026"/>
<rect x="472.80" y="569.50" width="4.6" height="4.6" fill="#a40026"/>
<rect x="472.80" y="575.60" width="4.6" height="4.6" fill="#a40026"/>
<rect x="482.60" y="580.30" width="4.6" height="4.6" fill="#a40026"/>
<rect x="468.00" y="581.80" width="4.6" height="4.6" fill="#a40026"/>
<rect x="477.70" y="584.90" width="4.6" height="4.6" fill="#a40026"/>
<rect x="487.20" y="588.00" width="4.6" height="4.6" fill="#a40026"/>
<line x1="436.50" y1="560.40" x2="436.50" y2="568.40" stroke="#24468a" stroke-width="1.4"/>
<line x1="428.90" y1="560.40" x2="443.70" y2="560.40" stroke="#24468a" stroke-width="1.2"/>
<line x1="428.90" y1="568.40" x2="443.70" y2="568.40" stroke="#24468a" stroke-width="1.2"/>
<line x1="422.20" y1="564.50" x2="450.80" y2="564.50" stroke="#000" stroke-width="1.9"/>
<line x1="479.80" y1="559.40" x2="479.80" y2="570.70" stroke="#b01040" stroke-width="1.4"/>
<line x1="473.00" y1="559.40" x2="487.00" y2="559.40" stroke="#b01040" stroke-width="1.2"/>
<line x1="473.00" y1="570.70" x2="487.00" y2="570.70" stroke="#b01040" stroke-width="1.2"/>
<line x1="465.50" y1="565.10" x2="494.00" y2="565.10" stroke="#000" stroke-width="1.9"/>
<line x1="407.70" y1="489.80" x2="407.70" y2="647.15" stroke="#000" stroke-width="1.5"/>
<line x1="406.95" y1="646.40" x2="509.50" y2="646.40" stroke="#000" stroke-width="1.5"/>
<line x1="402.70" y1="646.40" x2="407.70" y2="646.40" stroke="#000" stroke-width="1.3"/>
<text x="398.10" y="650.35" font-size="11.5" text-anchor="end" font-family='"Liberation Sans", sans-serif'>0</text>
<line x1="402.70" y1="616.00" x2="407.70" y2="616.00" stroke="#000" stroke-width="1.3"/>
<text x="398.10" y="619.95" font-size="11.5" text-anchor="end" font-family='"Liberation Sans", sans-serif'>20</text>
<line x1="402.70" y1="585.60" x2="407.70" y2="585.60" stroke="#000" stroke-width="1.3"/>
<text x="398.10" y="589.55" font-size="11.5" text-anchor="end" font-family='"Liberation Sans", sans-serif'>40</text>
<line x1="402.70" y1="555.20" x2="407.70" y2="555.20" stroke="#000" stroke-width="1.3"/>
<text x="398.10" y="559.15" font-size="11.5" text-anchor="end" font-family='"Liberation Sans", sans-serif'>60</text>
<line x1="402.70" y1="524.80" x2="407.70" y2="524.80" stroke="#000" stroke-width="1.3"/>
<text x="398.10" y="528.75" font-size="11.5" text-anchor="end" font-family='"Liberation Sans", sans-serif'>80</text>
<line x1="402.70" y1="494.40" x2="407.70" y2="494.40" stroke="#000" stroke-width="1.3"/>
<text x="398.10" y="498.35" font-size="11.5" text-anchor="end" font-family='"Liberation Sans", sans-serif'>100</text>
<line x1="436.50" y1="646.40" x2="436.50" y2="651.00" stroke="#000" stroke-width="1.3"/>
<line x1="479.80" y1="646.40" x2="479.80" y2="651.00" stroke="#000" stroke-width="1.3"/>
<text x="422.65" y="665.80" font-size="12" font-family='"Liberation Sans", sans-serif'>Gq<tspan dy="-4.1" font-size="9" textLength="11.2" lengthAdjust="spacingAndGlyphs" style="font-variant-ligatures:none">fl/fl</tspan></text>
<text x="464.95" y="665.80" font-size="12" font-family='"Liberation Sans", sans-serif'>Gq<tspan dy="-5.2" font-size="8.6" font-family='"Liberation Serif", serif'>&#916;/&#916;</tspan></text>
<text transform="translate(369.10,605.75) rotate(-90) scale(1.0,1)" x="0" y="0" font-size="13.8" text-anchor="middle" stroke="#000" stroke-width="0.3" font-family='"Liberation Sans", sans-serif'>#</text>
<text transform="translate(369.10,564.20) rotate(-90) scale(0.65,1)" x="0" y="0" font-size="13.8" text-anchor="middle" textLength="104.46" lengthAdjust="spacing" stroke="#000" stroke-width="0.3" font-family='"Liberation Sans", sans-serif'>of migrated cell</text>
<text x="437.90" y="502.60" font-size="11" textLength="35.2" lengthAdjust="spacingAndGlyphs" font-family='"Liberation Sans", sans-serif'>p=0.94</text>
<line x1="437.90" y1="506.30" x2="473.70" y2="506.30" stroke="#111" stroke-width="1.6"/>
<text x="9.80" y="24.60" font-size="16.8" font-weight="bold" font-family='"Liberation Sans", sans-serif' stroke="#000" stroke-width="0.55">A</text>
<text x="10.50" y="251.90" font-size="16.8" font-weight="bold" font-family='"Liberation Sans", sans-serif' stroke="#000" stroke-width="0.55">B</text>
<text x="10.30" y="478.70" font-size="16.8" font-weight="bold" font-family='"Liberation Sans", sans-serif' stroke="#000" stroke-width="0.55">C</text>
<g shape-rendering="crispEdges">
<rect x="0" y="0" width="520" height="1" fill="#000"/><rect x="1" y="1" width="518" height="1" fill="#7a7a7a"/>
<rect x="0" y="0" width="1" height="679" fill="#000"/><rect x="1" y="1" width="1" height="677" fill="#646464"/>
<rect x="519" y="0" width="1" height="679" fill="#000"/><rect x="518" y="1" width="1" height="677" fill="#555"/>
<rect x="0" y="678" width="520" height="1" fill="#000"/><rect x="1" y="677" width="518" height="1" fill="#5a5a5a"/>
</g>
</svg>
</body></html>
